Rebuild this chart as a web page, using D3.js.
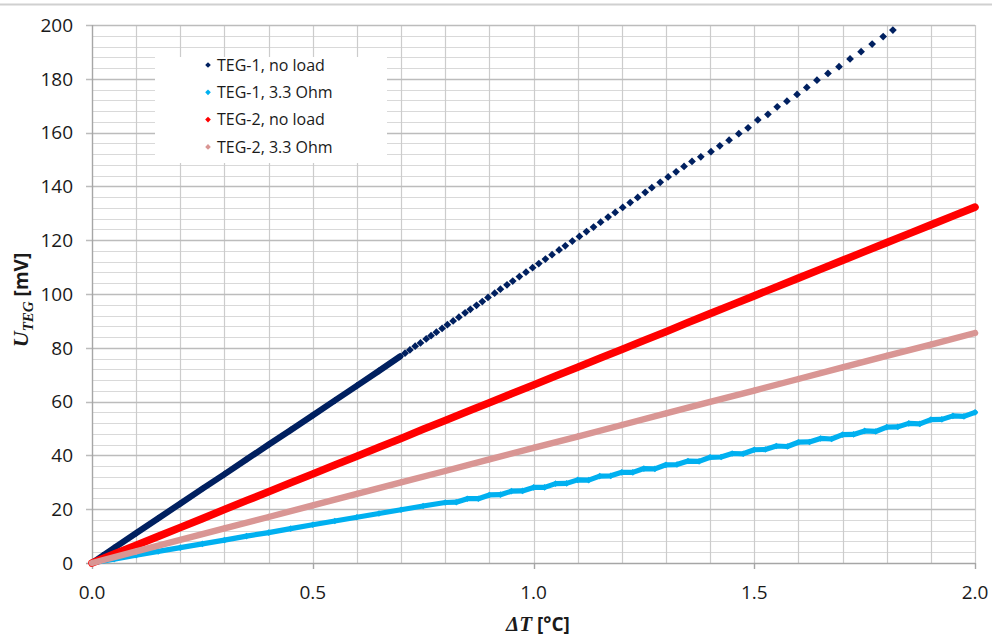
<!DOCTYPE html>
<html>
<head>
<meta charset="utf-8">
<script src="https://cdn.jsdelivr.net/npm/d3@7"></script>
<style>
body { margin: 0; background: #fff; }
.tick-text { font-family: "Open Sans", sans-serif; font-size: 19px; fill: #1a1a1a; }
.legend-text { font-family: "Open Sans", sans-serif; font-size: 16px; fill: #1a1a1a; }
</style>
</head>
<body>
<div id="chartContainer"></div>
<script>
// axis labels
var xTickLabels = ["0.0", "0.5", "1.0", "1.5", "2.0"];
var xTickValues = [0, 0.5, 1.0, 1.5, 2.0];
var yTickValues = [0, 20, 40, 60, 80, 100, 120, 140, 160, 180, 200];
var seriesNames = ["TEG-1, no load", "TEG-1, 3.3 Ohm", "TEG-2, no load", "TEG-2, 3.3 Ohm"];

// TEG-1, no load - lower part (points so close they merge into a line)
var navyLowDT = [0, 0.025, 0.05, 0.1, 0.15, 0.2, 0.25, 0.3, 0.35, 0.4, 0.45, 0.5, 0.55, 0.6, 0.65, 0.698];
var navyLowU = [0, 2.8, 5.6, 11.1, 16.6, 22.1, 27.6, 33.0, 38.5, 44.0, 49.4, 54.9, 60.4, 65.9, 71.4, 76.8];

// TEG-1, no load - upper part (separate points)
var navyHighDT = [0.709, 0.720, 0.732, 0.744, 0.757, 0.768, 0.780, 0.793, 0.805, 0.818, 0.831, 0.845,
	0.857, 0.871, 0.884, 0.897, 0.912, 0.925, 0.940, 0.953, 0.968, 0.983, 0.998, 1.012, 1.027, 1.042,
	1.058, 1.072, 1.088, 1.104, 1.120, 1.136, 1.152, 1.169, 1.185, 1.202, 1.219, 1.236, 1.253, 1.268,
	1.287, 1.305, 1.323, 1.341, 1.359, 1.379, 1.402, 1.422, 1.443, 1.465, 1.486, 1.508, 1.531, 1.552,
	1.574, 1.597, 1.619, 1.642, 1.667, 1.692, 1.717, 1.742, 1.767, 1.792, 1.814];
var navyHighU = [78.0, 79.2, 80.6, 81.8, 83.3, 84.5, 85.8, 87.2, 88.6, 90.0, 91.4, 93.0,
	94.3, 95.8, 97.2, 98.7, 100.3, 101.8, 103.4, 104.8, 106.5, 108.1, 109.8, 111.3, 113.0, 114.6,
	116.4, 117.9, 119.7, 121.4, 123.2, 124.9, 126.7, 128.6, 130.3, 132.2, 134.0, 135.9, 137.8, 139.5,
	141.5, 143.5, 145.4, 147.4, 149.3, 151.0, 152.9, 155.1, 157.2, 159.6, 161.8, 164.7, 166.8, 169.6,
	171.7, 174.2, 176.8, 179.5, 182.0, 184.5, 187.4, 190.1, 192.9, 195.7, 198.1];

// TEG-1, 3.3 Ohm
var blueDT = [0, 0.05, 0.1, 0.15, 0.2, 0.25, 0.3, 0.35, 0.4, 0.45, 0.5, 0.55, 0.6, 0.65, 0.7, 0.75,
	0.800, 0.825, 0.850, 0.875, 0.900, 0.925, 0.950, 0.975, 1.000, 1.025, 1.050, 1.075, 1.100, 1.125,
	1.150, 1.175, 1.200, 1.225, 1.250, 1.275, 1.300, 1.325, 1.350, 1.375, 1.400, 1.425, 1.450, 1.475,
	1.500, 1.525, 1.550, 1.575, 1.600, 1.625, 1.650, 1.675, 1.700, 1.725, 1.750, 1.775, 1.800, 1.825,
	1.850, 1.875, 1.900, 1.925, 1.950, 1.975, 2.000];
var blueU = [0, 1.4, 2.9, 4.3, 5.7, 7.1, 8.5, 10.0, 11.3, 12.8, 14.2, 15.6, 17.0, 18.4, 19.8, 21.2,
	22.5, 22.6, 23.9, 23.9, 25.3, 25.4, 26.7, 26.8, 28.1, 28.1, 29.5, 29.6, 30.9, 30.8,
	32.3, 32.4, 33.7, 33.7, 35.1, 35.0, 36.5, 36.6, 37.9, 37.8, 39.3, 39.4, 40.7, 40.6,
	42.1, 42.2, 43.5, 43.3, 44.9, 45.0, 46.3, 46.1, 47.7, 47.8, 49.1, 48.9, 50.5, 50.6,
	51.9, 51.7, 53.3, 53.4, 54.7, 54.5, 56.0];

// TEG-2, no load
var redDT = [0, 0.05, 0.1, 0.15, 0.2, 0.25, 0.3, 0.35, 0.4, 0.45, 0.5, 0.55, 0.6, 0.65, 0.7, 0.75,
	0.8, 0.85, 0.9, 0.95, 1.0, 1.05, 1.1, 1.15, 1.2, 1.25, 1.3, 1.35, 1.4, 1.45, 1.5, 1.55, 1.6,
	1.65, 1.7, 1.75, 1.8, 1.85, 1.9, 1.95, 2.0];
var redU = [0, 3.3, 6.6, 9.9, 13.2, 16.5, 19.9, 23.2, 26.5, 29.8, 33.1, 36.4, 39.7, 43.0, 46.3, 49.7,
	53.0, 56.3, 59.6, 62.9, 66.2, 69.5, 72.8, 76.1, 79.4, 82.7, 86.0, 89.4, 92.7, 96.0, 99.3, 102.6, 105.9,
	109.2, 112.5, 115.8, 119.1, 122.4, 125.7, 129.0, 132.3];

// TEG-2, 3.3 Ohm
var pinkDT = [0, 0.1, 0.2, 0.3, 0.4, 0.5, 0.6, 0.7, 0.8, 0.9, 1.0, 1.1, 1.2, 1.3, 1.4, 1.5, 1.6, 1.7,
	1.8, 1.9, 2.0];
var pinkU = [0, 4.3, 8.6, 12.9, 17.1, 21.4, 25.7, 30.0, 34.2, 38.5, 42.8, 47.0, 51.3, 55.6, 59.9, 64.1,
	68.4, 72.7, 77.0, 81.2, 85.5];

Chart = {
	width : 992,
	height : 636,
	left : 92, // plot area edges
	right : 975,
	top : 25,
	bottom : 563,
	colors : ["#002060", "#00b0f0", "#ff0000", "#d99694"],

	drawChart : function(){
		var svg = d3.select("#chartContainer")
			.append("svg")
			.attr("width", Chart.width)
			.attr("height", Chart.height);

		var x = d3.scaleLinear().domain([0, 2]).range([Chart.left, Chart.right]);
		var y = d3.scaleLinear().domain([0, 200]).range([Chart.bottom, Chart.top]);

		// frame line on top
		svg.append("line")
			.attr("x1", 0).attr("y1", 4.5)
			.attr("x2", 992).attr("y2", 4.5)
			.style("stroke", "#d0d0d0")
			.style("stroke-width", 2);

		this.drawGrid(svg, x, y);
		this.drawAxes(svg, x, y);

		// draw order as in the original: pink on top
		this.drawSeries(svg, x, y, navyLowDT, navyLowU, Chart.colors[0], 6.2, 26);
		this.drawSeries(svg, x, y, navyHighDT, navyHighU, Chart.colors[0], 0, 30);
		this.drawSeries(svg, x, y, blueDT, blueU, Chart.colors[1], 5.2, 22);
		this.drawSeries(svg, x, y, redDT, redU, Chart.colors[2], 7.6, 26);
		this.drawSeries(svg, x, y, pinkDT, pinkU, Chart.colors[3], 6.4, 24);

		this.drawLegend(svg);
		this.drawTitles(svg);
	},

	drawGrid : function(svg, x, y){
		var g = svg.append("g").attr("class", "grid");

		// minor horizontal lines every 4 mV
		g.selectAll("line.hminor")
			.data(d3.range(4, 200, 4).filter(function(d){ return d % 20 != 0; }))
			.enter().append("line")
			.attr("x1", Chart.left).attr("x2", Chart.right)
			.attr("y1", function(d){ return Math.round(y(d)) + 0.5; })
			.attr("y2", function(d){ return Math.round(y(d)) + 0.5; })
			.style("stroke", "#d9d9d9")
			.style("stroke-width", 1);

		// vertical lines every 0.1
		g.selectAll("line.v")
			.data(d3.range(1, 21).map(function(d){ return d / 10; }))
			.enter().append("line")
			.attr("y1", Chart.top).attr("y2", Chart.bottom)
			.attr("x1", function(d){ return Math.round(x(d)) + 0.5; })
			.attr("x2", function(d){ return Math.round(x(d)) + 0.5; })
			.style("stroke", "#cccccc")
			.style("stroke-width", 1.2);

		// major horizontal lines every 20 mV
		g.selectAll("line.hmajor")
			.data(yTickValues.slice(1))
			.enter().append("line")
			.attr("x1", Chart.left - 6).attr("x2", Chart.right)
			.attr("y1", function(d){ return Math.round(y(d)) + 0.5; })
			.attr("y2", function(d){ return Math.round(y(d)) + 0.5; })
			.style("stroke", "#bcbcbc")
			.style("stroke-width", 1.4);
	},

	drawAxes : function(svg, x, y){
		var g = svg.append("g").attr("class", "axes");

		g.append("line")
			.attr("x1", Chart.left - 6).attr("x2", Chart.right)
			.attr("y1", Chart.bottom + 0.5).attr("y2", Chart.bottom + 0.5)
			.style("stroke", "#a6a6a6").style("stroke-width", 1.4);
		g.append("line")
			.attr("x1", Chart.left + 0.5).attr("x2", Chart.left + 0.5)
			.attr("y1", Chart.top).attr("y2", Chart.bottom + 6)
			.style("stroke", "#a6a6a6").style("stroke-width", 1.4);

		// ticks below x axis
		g.selectAll("line.xtick")
			.data(xTickValues.slice(1))
			.enter().append("line")
			.attr("x1", function(d){ return Math.round(x(d)) + 0.5; })
			.attr("x2", function(d){ return Math.round(x(d)) + 0.5; })
			.attr("y1", Chart.bottom).attr("y2", Chart.bottom + 6)
			.style("stroke", "#a6a6a6").style("stroke-width", 1.4);

		g.selectAll("text.xlab")
			.data(xTickValues)
			.enter().append("text")
			.attr("class", "tick-text")
			.attr("x", function(d){ return x(d); })
			.attr("y", 599)
			.attr("text-anchor", "middle")
			.text(function(d, i){ return xTickLabels[i]; });

		g.selectAll("text.ylab")
			.data(yTickValues)
			.enter().append("text")
			.attr("class", "tick-text")
			.attr("x", 73)
			.attr("y", function(d){ return y(d); })
			.attr("dy", ".36em")
			.attr("text-anchor", "end")
			.text(function(d){ return d; });
	},

	drawSeries : function(svg, x, y, dt, u, color, lineWidth, markerSize){
		var pts = dt.map(function(d, i){ return [d, u[i]]; });
		var g = svg.append("g").attr("class", "series");

		if(lineWidth > 0){
			var line = d3.line()
				.x(function(d){ return x(d[0]); })
				.y(function(d){ return y(d[1]); });
			g.append("path")
				.attr("d", line(pts))
				.style("fill", "none")
				.style("stroke", color)
				.style("stroke-width", lineWidth)
				.style("stroke-linejoin", "round")
				.style("stroke-linecap", "round");
		}

		g.selectAll("path.marker")
			.data(pts)
			.enter().append("path")
			.attr("class", "marker")
			.attr("d", d3.symbol().type(d3.symbolSquare).size(markerSize)())
			.attr("transform", function(d){
				return "translate(" + x(d[0]) + "," + y(d[1]) + ") rotate(45)";
			})
			.style("fill", color);
	},

	drawLegend : function(svg){
		var g = svg.append("g").attr("class", "legend");
		g.append("rect")
			.attr("x", 155).attr("y", 57)
			.attr("width", 232).attr("height", 106)
			.style("fill", "#fff");

		for(var i = 0; i < seriesNames.length; i++){
			var ly = 65 + i * 27.3;
			g.append("path")
				.attr("d", d3.symbol().type(d3.symbolSquare).size(16)())
				.attr("transform", "translate(208," + ly + ") rotate(45)")
				.style("fill", Chart.colors[i]);
			g.append("text")
				.attr("class", "legend-text")
				.attr("x", 217)
				.attr("y", ly)
				.attr("dy", ".36em")
				.text(seriesNames[i]);
		}
	},

	drawTitles : function(svg){
		var xt = svg.append("text")
			.attr("x", 538)
			.attr("y", 631)
			.attr("text-anchor", "middle")
			.style("font-weight", "bold")
			.style("fill", "#1a1a1a");
		xt.append("tspan")
			.style("font-family", "'Liberation Serif', serif")
			.style("font-style", "italic")
			.style("font-size", "21px")
			.text("\u0394T");
		xt.append("tspan")
			.style("font-family", "'Open Sans', sans-serif")
			.style("font-size", "19px")
			.text(" [\u00b0C]");

		var yt = svg.append("text")
			.attr("transform", "translate(28,300) rotate(-90)")
			.attr("text-anchor", "middle")
			.style("font-weight", "bold")
			.style("fill", "#1a1a1a");
		yt.append("tspan")
			.style("font-family", "'Liberation Serif', serif")
			.style("font-style", "italic")
			.style("font-size", "22px")
			.text("U");
		yt.append("tspan")
			.attr("dy", 5)
			.style("font-family", "'Liberation Serif', serif")
			.style("font-style", "italic")
			.style("font-size", "15px")
			.text("TEG");
		yt.append("tspan")
			.attr("dy", -5)
			.style("font-family", "'Open Sans', sans-serif")
			.style("font-size", "19px")
			.text("  [mV]");
	}
};

Chart.drawChart();
</script>
</body>
</html>
